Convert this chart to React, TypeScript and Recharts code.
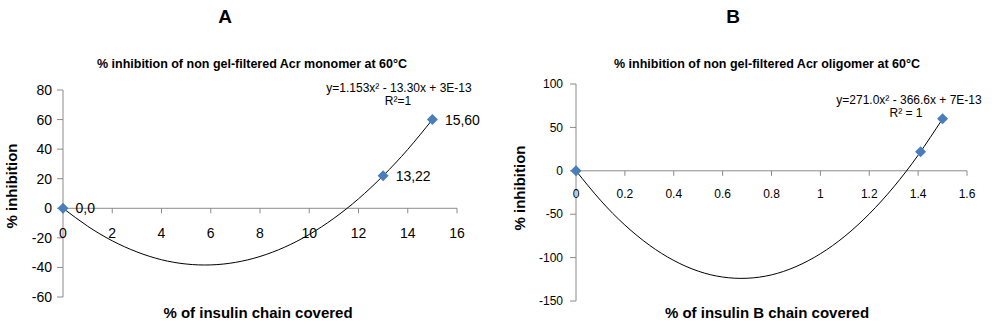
import React from 'react';
import { ComposedChart, Line, Scatter, XAxis, YAxis, ReferenceLine, LabelList } from 'recharts';

// ---------- Data: chart A (monomer) ----------
const pointsA = [
  { x: 0, y: 0 },
  { x: 13, y: 22 },
  { x: 15, y: 60 },
];
const trendXA = [0, 1, 2, 3, 4, 5, 6, 7, 8, 9, 10, 11, 12, 13, 14, 15];
const trendYA = [0, -12.1, -22, -29.5, -34.8, -37.7, -38.3, -36.6, -32.6, -26.3, -17.7, -6.8, 6.4, 22, 39.8, 60];
const xTicksA = [0, 2, 4, 6, 8, 10, 12, 14, 16];
const yTicksA = [-60, -40, -20, 0, 20, 40, 60, 80];

// ---------- Data: chart B (oligomer) ----------
const pointsB = [
  { x: 0, y: 0 },
  { x: 1.41, y: 22 },
  { x: 1.5, y: 60 },
];
const trendXB = [0, 0.1, 0.2, 0.3, 0.4, 0.5, 0.6, 0.7, 0.8, 0.9, 1.0, 1.1, 1.2, 1.3, 1.4, 1.5];
const trendYB = [0, -33.9, -62.5, -85.6, -103.3, -115.6, -122.4, -123.8, -119.9, -110.4, -95.6, -75.4, -49.7, -18.6, 18, 59.9];
const xTicksB = [0, 0.2, 0.4, 0.6, 0.8, 1, 1.2, 1.4, 1.6];
const yTicksB = [-150, -100, -50, 0, 50, 100];

const FONT = '"Liberation Sans", Arial, Helvetica, sans-serif';
const AXIS = '#8a8a8a';
const MARK = '#4a7ebb';

const trendA = trendXA.map((x, i) => ({ x, y: trendYA[i] }));
const trendB = trendXB.map((x, i) => ({ x, y: trendYB[i] }));
const ptsA = pointsA.map((p) => ({ ...p, label: `${p.x},${p.y}` }));
const ptsB = pointsB.map((p) => ({ ...p }));
const tickDataA = xTicksA.map((x) => ({ x, y: 0 }));
const tickDataB = xTicksB.map((x) => ({ x, y: 0 }));

const Diamond = (props: any) => {
  const { cx, cy } = props;
  if (cx == null || cy == null) return null;
  const r = 5.5;
  return (
    <polygon
      points={`${cx},${cy - r} ${cx + r},${cy} ${cx},${cy + r} ${cx - r},${cy}`}
      fill={MARK}
    />
  );
};

const makeXTick = (fontSize: number, dy: number) => (props: any) => {
  const { cx, cy, payload } = props;
  if (cx == null || cy == null) return null;
  return (
    <g>
      <line x1={cx} y1={cy} x2={cx} y2={cy + 5} stroke={AXIS} strokeWidth={1} />
      <text x={cx} y={cy + dy} textAnchor="middle" fontSize={fontSize} fill="#000" fontFamily={FONT}>
        {String(payload.x)}
      </text>
    </g>
  );
};

const abs = (left: number, top: number, extra: React.CSSProperties = {}): React.CSSProperties => ({
  position: 'absolute',
  left,
  top,
  transform: 'translate(-50%, -50%)',
  whiteSpace: 'nowrap',
  fontFamily: FONT,
  lineHeight: 1,
  color: '#000',
  ...extra,
});

export default function App() {
  return (
    <div style={{ position: 'absolute', left: 0, top: 0, width: 1000, height: 325, background: '#fff', overflow: 'hidden' }}>
      {/* Chart A */}
      <div style={{ position: 'absolute', left: 0, top: 0 }}>
        <ComposedChart width={500} height={325} margin={{ top: 90, right: 43, bottom: 28, left: 0 }}>
          <XAxis dataKey="x" type="number" domain={[0, 16]} hide />
          <YAxis
            type="number"
            domain={[-60, 80]}
            ticks={yTicksA}
            interval={0}
            width={63}
            axisLine={{ stroke: AXIS }}
            tickLine={{ stroke: AXIS }}
            tickSize={6}
            tickMargin={5}
            tick={{ fontSize: 14, fill: '#000', fontFamily: FONT }}
          />
          <ReferenceLine y={0} stroke={AXIS} strokeWidth={1} />
          <Scatter data={tickDataA} dataKey="y" shape={makeXTick(14, 30)} isAnimationActive={false} />
          <Line
            data={trendA}
            dataKey="y"
            type="natural"
            stroke="#000"
            strokeWidth={1}
            dot={false}
            activeDot={false}
            isAnimationActive={false}
          />
          <Scatter data={ptsA} dataKey="y" shape={Diamond} isAnimationActive={false}>
            <LabelList dataKey="label" position="right" offset={8} fontSize={14} fill="#000" fontFamily={FONT} />
          </Scatter>
        </ComposedChart>
      </div>

      {/* Chart B */}
      <div style={{ position: 'absolute', left: 500, top: 0 }}>
        <ComposedChart width={500} height={325} margin={{ top: 84, right: 33, bottom: 24, left: 0 }}>
          <XAxis dataKey="x" type="number" domain={[0, 1.6]} hide />
          <YAxis
            type="number"
            domain={[-150, 100]}
            ticks={yTicksB}
            interval={0}
            width={76}
            axisLine={{ stroke: AXIS }}
            tickLine={{ stroke: AXIS }}
            tickSize={6}
            tickMargin={7}
            tick={{ fontSize: 12, fill: '#000', fontFamily: FONT }}
          />
          <ReferenceLine y={0} stroke={AXIS} strokeWidth={1} />
          <Scatter data={tickDataB} dataKey="y" shape={makeXTick(12, 27)} isAnimationActive={false} />
          <Line
            data={trendB}
            dataKey="y"
            type="natural"
            stroke="#000"
            strokeWidth={1}
            dot={false}
            activeDot={false}
            isAnimationActive={false}
          />
          <Scatter data={ptsB} dataKey="y" shape={Diamond} isAnimationActive={false} />
        </ComposedChart>
      </div>

      {/* Texts A */}
      <div style={abs(225, 16, { fontSize: 19, fontWeight: 'bold' })}>A</div>
      <div style={abs(252, 64, { fontSize: 12.5, fontWeight: 'bold' })}>% inhibition of non gel-filtered Acr monomer at 60°C</div>
      <div style={abs(399, 88, { fontSize: 12 })}>y=1.153x² - 13.30x + 3E-13</div>
      <div style={abs(398, 101, { fontSize: 12 })}>R²=1</div>
      <div style={abs(11, 186, { fontSize: 15, fontWeight: 'bold', transform: 'translate(-50%, -50%) rotate(-90deg)' })}>% inhibition</div>
      <div style={abs(258, 312, { fontSize: 15, fontWeight: 'bold' })}>% of insulin chain covered</div>

      {/* Texts B */}
      <div style={abs(733, 16, { fontSize: 19, fontWeight: 'bold' })}>B</div>
      <div style={abs(767, 64, { fontSize: 12.5, fontWeight: 'bold' })}>% inhibition of non gel-filtered Acr oligomer at 60°C</div>
      <div style={abs(909, 100, { fontSize: 12 })}>y=271.0x² - 366.6x + 7E-13</div>
      <div style={abs(906, 113, { fontSize: 12 })}>R² = 1</div>
      <div style={abs(519, 188, { fontSize: 15, fontWeight: 'bold', transform: 'translate(-50%, -50%) rotate(-90deg)' })}>% inhibition</div>
      <div style={abs(767, 312, { fontSize: 15, fontWeight: 'bold' })}>% of insulin B chain covered</div>
    </div>
  );
}
